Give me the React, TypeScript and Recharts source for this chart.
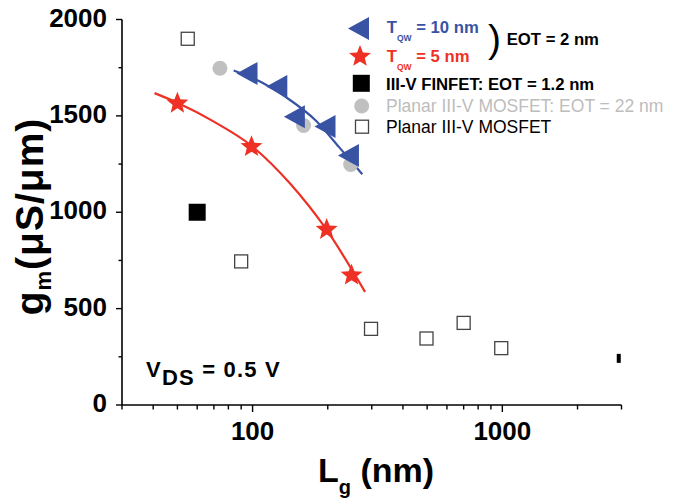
import { ScatterChart, Scatter, XAxis, YAxis, Legend, Label } from "recharts";

const FONT = '"Liberation Sans", Arial, Helvetica, sans-serif';
const BLUE = "#3953a4";
const RED = "#ee3124";
const GRAY = "#c0c0c0";
const GRAY_TEXT = "#bdbdbd";

// L_g (nm) vs g_m (uS/um)
const tqw10 = [
  { L: 95, g: 1720 },
  { L: 125, g: 1652 },
  { L: 147, g: 1495 },
  { L: 195, g: 1445 },
  { L: 242, g: 1295 },
];
const tqw10Fit = [
  { L: 84, g: 1735 },
  { L: 109, g: 1673 },
  { L: 136, g: 1597 },
  { L: 179, g: 1476 },
  { L: 222, g: 1338 },
  { L: 275, g: 1197 },
];
const tqw5 = [
  { L: 50, g: 1565 },
  { L: 99, g: 1340 },
  { L: 198, g: 910 },
  { L: 249, g: 673 },
];
const tqw5Fit = [
  { L: 40.5, g: 1618 },
  { L: 50, g: 1568 },
  { L: 70, g: 1470 },
  { L: 99, g: 1345 },
  { L: 141, g: 1150 },
  { L: 198, g: 908 },
  { L: 282, g: 587 },
];
const finfet = [{ L: 60, g: 1000 }];
const planarEot22 = [
  { L: 74, g: 1747 },
  { L: 160, g: 1450 },
  { L: 247, g: 1248 },
];
const planar = [
  { L: 55, g: 1900 },
  { L: 90, g: 745 },
  { L: 298, g: 395 },
  { L: 497, g: 345 },
  { L: 700, g: 426 },
  { L: 990, g: 295 },
];
const planarEdge = [{ L: 2925, g: 242 }];

const xTicks = [30, 40, 50, 60, 70, 80, 90, 100, 200, 300, 400, 500, 600, 700, 800, 900, 1000, 2000, 3000];
const xLabels = [100, 1000];
const yTicks = [0, 250, 500, 750, 1000, 1250, 1500, 1750, 2000];
const yLabels = [0, 500, 1000, 1500, 2000];

function starPoints(cx: number, cy: number, R: number, r: number) {
  const pts: string[] = [];
  for (let i = 0; i < 10; i++) {
    const a = -Math.PI / 2 + (i * Math.PI) / 5;
    const rad = i % 2 === 0 ? R : r;
    pts.push(`${cx + rad * Math.cos(a)},${cy + rad * Math.sin(a)}`);
  }
  return pts.join(" ");
}

const TriangleLeft = ({ cx, cy }: any) => (
  <polygon
    points={`${cx - 10.5},${cy} ${cx + 10.5},${cy - 11.5} ${cx + 10.5},${cy + 11.5}`}
    fill={BLUE}
  />
);
const Star = ({ cx, cy }: any) => <polygon points={starPoints(cx, cy, 11.5, 5)} fill={RED} />;
const FilledSquare = ({ cx, cy }: any) => (
  <rect x={cx - 8.5} y={cy - 8.5} width={17} height={17} fill="#000" />
);
const GrayDot = ({ cx, cy }: any) => <circle cx={cx} cy={cy} r={7.5} fill={GRAY} />;
const OpenSquare = ({ cx, cy }: any) => (
  <rect x={cx - 6.5} y={cy - 6.5} width={13} height={13} fill="#fff" stroke="#444" strokeWidth={1.3} />
);
const EdgeMark = ({ cx, cy }: any) => (
  <rect x={cx - 2} y={cy - 4.5} width={4} height={9} fill="#000" />
);
const NoDot = () => null;

function XTick({ x, y, payload }: any) {
  const major = xLabels.includes(payload.value);
  return (
    <g>
      <line x1={x} x2={x} y1={y} y2={y + (major ? 7 : 4.5)} stroke="#000" strokeWidth={1.4} />
      {major && (
        <text x={x} y={y + 35} textAnchor="middle" fontSize={26} fontWeight="bold" fontFamily={FONT} fill="#000">
          {payload.value}
        </text>
      )}
    </g>
  );
}

function YTick({ x, y, payload }: any) {
  const major = yLabels.includes(payload.value);
  return (
    <g>
      <line x1={x} x2={x - (major ? 6 : 3.5)} y1={y} y2={y} stroke="#000" strokeWidth={1.4} />
      {major && (
        <text x={x - 15} y={y + 7} textAnchor="end" fontSize={26} fontWeight="bold" fontFamily={FONT} fill="#000">
          {payload.value}
        </text>
      )}
    </g>
  );
}

const XTitle = () => (
  <text x={318} y={482} fontSize={34} fontWeight="bold" fontFamily={FONT} fill="#000">
    L
    <tspan fontSize={20} dy={11.5}>g</tspan>
    <tspan dy={-11.5}> (nm)</tspan>
  </text>
);

const YTitle = () => (
  <text
    transform="translate(43,216.5) rotate(-90)"
    textAnchor="middle"
    fontSize={39}
    fontWeight="bold"
    fontFamily={FONT}
    letterSpacing={1}
    fill="#000"
  >
    g
    <tspan fontSize={22} dy={8}>m</tspan>
    <tspan dy={-8}>(μS/μm)</tspan>
  </text>
);

function Overlay() {
  const bold = { fontFamily: FONT, fontWeight: "bold" as const, fontSize: 16.7 };
  return (
    <svg width={685} height={501} style={{ display: "block" }}>
      <TriangleLeft cx={358.5} cy={28.5} />
      <text x={386.7} y={33} fill={BLUE} {...bold}>
        T<tspan fontSize={8.5} dy={7.5}>QW</tspan>
        <tspan dy={-7.5}> = 10 nm</tspan>
      </text>
      <Star cx={360} cy={56.5} />
      <text x={386.7} y={62} fill={RED} {...bold}>
        T<tspan fontSize={8.5} dy={7.5}>QW</tspan>
        <tspan dy={-7.5}> = 5 nm</tspan>
      </text>
      <text x={488} y={51.5} fontFamily={FONT} fontSize={39} fill="#000">
        )
      </text>
      <text x={506.7} y={45} fill="#000" {...bold}>
        EOT = 2 nm
      </text>
      <FilledSquare cx={361.3} cy={83.3} />
      <text x={386} y={90} fill="#000" {...bold}>
        III-V FINFET: EOT = 1.2 nm
      </text>
      <GrayDot cx={361.7} cy={106} />
      <text x={386} y={111.7} fill={GRAY_TEXT} fontFamily={FONT} fontSize={17.5}>
        Planar III-V MOSFET: EOT = 22 nm
      </text>
      <OpenSquare cx={362} cy={126.7} />
      <text x={386} y={133.3} fill="#000" fontFamily={FONT} fontSize={17.5}>
        Planar III-V MOSFET
      </text>
      <text x={146} y={377} fill="#000" fontFamily={FONT} fontWeight="bold" fontSize={22} letterSpacing={1.2}>
        V<tspan dy={8}>DS</tspan>
        <tspan dy={-8}> = 0.5 V</tspan>
      </text>
    </svg>
  );
}

export default function App() {
  return (
    <div style={{ position: "absolute", left: 0, top: 0, width: 685, height: 501, background: "#fff" }}>
      <ScatterChart width={685} height={501} margin={{ top: 19.5, right: 63.5, bottom: 36, left: 0 }}>
        <XAxis
          dataKey="L"
          type="number"
          scale="log"
          domain={[30, 3000]}
          ticks={xTicks}
          interval={0}
          tick={XTick}
          tickLine={false}
          tickSize={0}
          tickMargin={0}
          height={60}
          axisLine={{ stroke: "#000", strokeWidth: 1.6 }}
          allowDataOverflow
        >
          <Label content={XTitle} />
        </XAxis>
        <YAxis
          dataKey="g"
          type="number"
          domain={[0, 2000]}
          ticks={yTicks}
          interval={0}
          tick={YTick}
          tickLine={false}
          tickSize={0}
          tickMargin={0}
          width={122}
          axisLine={{ stroke: "#000", strokeWidth: 1.6 }}
          allowDataOverflow
        >
          <Label content={YTitle} />
        </YAxis>
        <Legend
          layout="horizontal"
          verticalAlign="middle"
          align="center"
          wrapperStyle={{ position: "absolute", left: 0, top: 0, width: 685, height: 501, pointerEvents: "none" }}
          content={() => <Overlay />}
        />
        <Scatter name="fit 10" data={tqw10Fit} shape={NoDot} line={{ stroke: BLUE, strokeWidth: 2.2 }} lineJointType="monotoneX" isAnimationActive={false} legendType="none" />
        <Scatter name="fit 5" data={tqw5Fit} shape={NoDot} line={{ stroke: RED, strokeWidth: 2.2 }} lineJointType="monotoneX" isAnimationActive={false} legendType="none" />
        <Scatter name="Planar III-V MOSFET: EOT = 22 nm" data={planarEot22} shape={GrayDot} isAnimationActive={false} />
        <Scatter name="Planar III-V MOSFET" data={planar} shape={OpenSquare} isAnimationActive={false} />
        <Scatter name="edge" data={planarEdge} shape={EdgeMark} isAnimationActive={false} legendType="none" />
        <Scatter name="III-V FINFET: EOT = 1.2 nm" data={finfet} shape={FilledSquare} isAnimationActive={false} />
        <Scatter name="TQW = 5 nm" data={tqw5} shape={Star} isAnimationActive={false} />
        <Scatter name="TQW = 10 nm" data={tqw10} shape={TriangleLeft} isAnimationActive={false} />
      </ScatterChart>
    </div>
  );
}
